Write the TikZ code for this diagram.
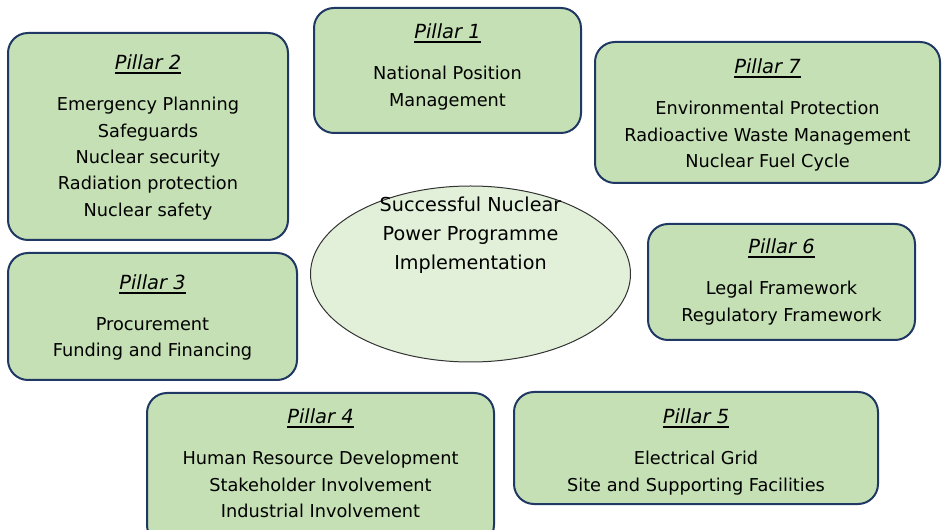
\documentclass[tikz,border=0pt]{standalone}
\usepackage{fontspec}
\setmainfont{DejaVu Sans}
\usepackage{xcolor}
\usetikzlibrary{shapes.geometric,positioning,fit}

\definecolor{pillarfill}{RGB}{197,224,180}
\definecolor{pillarline}{RGB}{31,56,100}
\definecolor{goalfill}{RGB}{226,240,217}
% thicker underline for the pillar titles
\newcommand{\undl}[1]{\setbox0\hbox{#1}\leavevmode\rlap{\vrule width\wd0 height -1.9pt depth 3pt}\box0}

\begin{document}
\begin{tikzpicture}[x=0.75pt,y=-0.75pt,
    pillar/.style={draw=pillarline,line width=1.5pt,fill=pillarfill,rounded corners=15pt,inner sep=0pt},
    ptitle/.style={font=\fontsize{14.6}{17}\selectfont\itshape,inner sep=0pt},
    pbody/.style={font=\fontsize{13.3}{19.8}\selectfont,align=center,inner sep=0pt},
    goal/.style={ellipse,draw=black!80,line width=0.75pt,fill=goalfill,inner sep=0pt}]
  \clip (0,0) rectangle (942,530);

  % centre: the goal
  \node[goal,minimum width=240pt,minimum height=132pt] (goal) at (470.5,274) {};
  \node[font=\fontsize{14.4}{21.75}\selectfont,align=center,inner sep=0pt,below=8.5pt of goal.north] (goaltext)
    {Successful Nuclear\\Power Programme\\Implementation};

  % Pillar 1
  \node[pillar,fit={(314,8) (581,133)}] (p1) {};
  \node[ptitle,below=12.6pt of p1.north] (t1) {\undl{Pillar 1}};
  \node[pbody,below=20.5pt of t1.base] (b1) {National Position\\Management};

  % Pillar 2
  \node[pillar,fit={(8,33) (288,240)}] (p2) {};
  \node[ptitle,below=17pt of p2.north] (t2) {\undl{Pillar 2}};
  \node[pbody,below=20.5pt of t2.base] (b2)
    {Emergency Planning\\Safeguards\\Nuclear security\\Radiation protection\\Nuclear safety};

  % Pillar 3
  \node[pillar,fit={(8,253) (297,380)}] (p3) {};
  \node[ptitle,below=17pt of p3.north] (t3) {\undl{Pillar 3}};
  \node[pbody,below=20.5pt of t3.base] (b3) {Procurement\\Funding and Financing};

  % Pillar 4 (runs off the bottom edge)
  \node[pillar,fit={(147,393) (494,545)}] (p4) {};
  \node[ptitle,below=12.5pt of p4.north] (t4) {\undl{Pillar 4}};
  \node[pbody,below=20.5pt of t4.base] (b4)
    {Human Resource Development\\Stakeholder Involvement\\Industrial Involvement};

  % Pillar 5
  \node[pillar,fit={(514,392) (878,504)}] (p5) {};
  \node[ptitle,below=13.2pt of p5.north] (t5) {\undl{Pillar 5}};
  \node[pbody,below=20.5pt of t5.base] (b5) {Electrical Grid\\Site and Supporting Facilities};

  % Pillar 6
  \node[pillar,fit={(648,224) (915,340)}] (p6) {};
  \node[ptitle,below=11.7pt of p6.north] (t6) {\undl{Pillar 6}};
  \node[pbody,below=20.5pt of t6.base] (b6) {Legal Framework\\Regulatory Framework};

  % Pillar 7
  \node[pillar,fit={(595,42) (940,183)}] (p7) {};
  \node[ptitle,below=13.2pt of p7.north] (t7) {\undl{Pillar 7}};
  \node[pbody,below=20.5pt of t7.base] (b7)
    {Environmental Protection\\Radioactive Waste Management\\Nuclear Fuel Cycle};
\end{tikzpicture}
\end{document}
